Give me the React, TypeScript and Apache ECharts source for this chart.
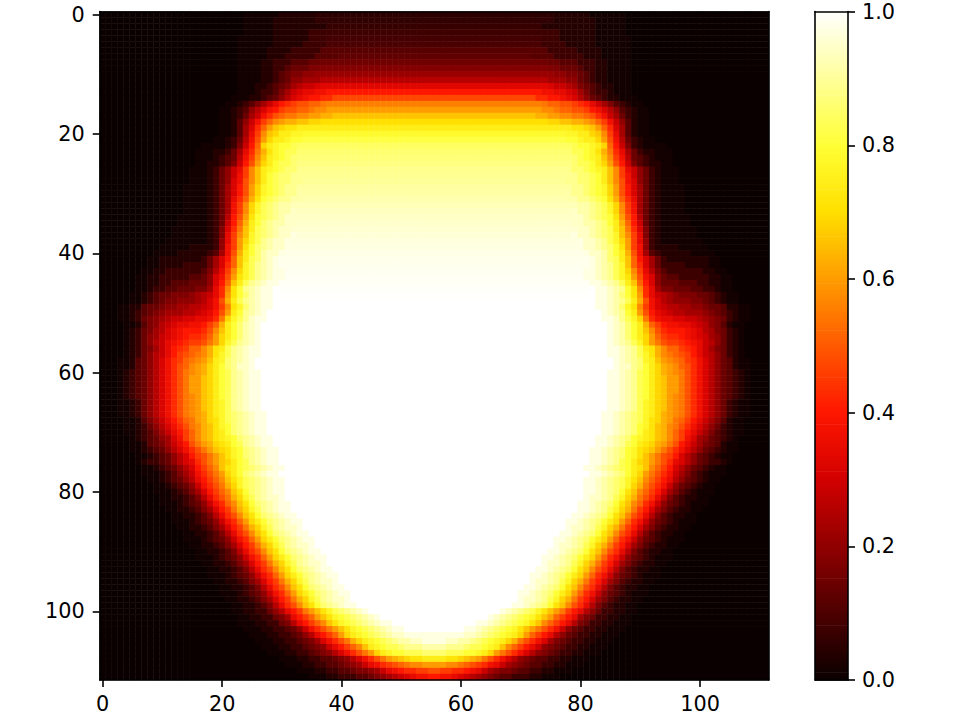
import React, { useEffect, useRef } from "react";
import * as echarts from "echarts";

// Left half of each image row (columns 0-55); the picture is mirror-symmetric.
// Format: "<number of leading zero cells>|<one base-36 digit per cell>".
const LEFT_ROWS = [
  "24|111111222222","24|111112222222","24|11111222222222","24|1111122222233 33","23|111111222222333","23|111111222223333",
  "23|1111122223333 3","23|11111222333334444","23|111122333444 55","23|11112233455566","23|1111223456677","23|111122345 77888",
  "23|11122345689aab","23|111233468abccdd","22|1112234579bcdeeff","21|1123468acefghhiij","20|1123479bdeghhiijkkl","20|11235 8adfhijjkkllmm",
  "20|11247adgiklmmnnoo","20|11248bfilnoppq","20|11248cgknoqqrr","19|112359dhloqqrss","17|1111236aeioqrsst","16|11122358cfjmprstt",
  "16|11123459dgknqrstu","16|1122346aehloqsttu","15|1112357acgknqrstuu","15|1112357adgknqstuuv","15|1112357bdhknqstuuvv","14|11112358behlorstuvv",
  "14|11112358behlorstuvvw","14|11112358cfimpstuvvww","14|11112358dgkortuvww","14|11112358dgkortuvwwx","13|11111235 9ehlpstuvwxx","13|1111123 5aeimqsuvwwxx",
  "12|11111123 6bfjnqtuvwxx","12|111111236cgknrtuvwxxy","11|1111111237cglortvwxxy","10|111112222 37dglpsuvwxxy","9|1111222223 48dhmqsuwxxy","8|1122222223 58beinqtuwxy",
  "8|11222233335 8bfinrtvwxy","7|11223333334 69cgkortvwxyy","6|11223333344 57bdhlprtvwxyy","6|1122334445557beinqtvwxyy","6|1123344555668cfkpsvwxyyz","5|1123455666789acflpsuwxyyz",
  "5|1123456677789bdhmqtvwxyyz","3|11224556778899abdgkpruwxyyz","3|1123456788899abcehlqsvwxyz","3|112356789aabbccdfjortvxyyz","4|1124679abccddegimqsuwxyz","4|1235689bcdeeefhknqsuwxyz",
  "4|123578abcdeffgiloqsuwxyz","4|123579acdefgghjlortvwxyz","4|123568acefgiikmpqtvwxyyz","4|123579aceghijkmprtvwxyyz","3|1124579bdfgijklnqruvwxyz","3|1124579bdfhiklmoqsuvxxyz",
  "3|1234579bdfhjklmoqstvwxyyz","3|1234579bdfhjllnoqstvwxyyz","3|1234579bdfhjllnoqstvwxyyz","3|1234579bdfhjllnoqstvwxyyz","3|1234579bdfhjklnoqstvwxyyz","3|1123579bdfhjklnoqrtvwxyyz",
  "3|1123579bdfhjklnoqrtvwxyyz","3|1123579bdfhjklmoqrtuvwxyyz","4|112468acegijlmoprtuvwxyyz","4|1123579bdfhjkmnprsuvwxyyz","4|1123468acegikmnpqsuvwxyyz","5|1234578bdgikmnpqrsuvwxyyz",
  "5|1124568acehjlmopqstvwxyyz","5|11234579bdfhjlnoprsuvwxyyz","6|11234579beghjlnprsuvwxyyz","6|123345 79bcfhjlnoqstvwxyyz","7|11234579begiknpqstuvwxyyz","7|11123468adfhjloqsuvwxyyz",
  "8|11234579cegiknprtuvwxyyz","9|1123457adfhjmortuvwxyyz","9|11123468begiknpsuvwxyyz","10|11223469cfhjmortvwxxyz","10|11123457adfiknpsuvwxyyz","11|11223468begjmortvwxyyz",
  "12|11223469cfhknpsuvwxyyz","12|11123457adfiloqsuvwxyyz","13|11223468begjmortvwxxyz","14|11223469cfhknpsuvwxyyz","14|11123457adfiloqsuvwxyyz","15|11223468begjmortvwxxyz",
  "16|11223469cfhknpsuvwxyyz","16|11123457adfiloqsuvwxyyz","17|11223468begjmortvwxxyz","18|11223469cfhknpsuvwxyyz","18|11123457adfiloqsuvwxyyz","19|11223468begjmortvwxxyz",
  "20|11223469cfhknpsuvwxyyz","20|11123457adfiloqsuvwxyyz","21|11223468begjmortvwxxyz","22|11223469cfhknpsuvwxyyz","22|112233579cegjlnprtuvwxyz","23|112233568cegilnprstuvwxyz",
  "23|1112233569cegiknprstuvwxyyz","24|1112233457adfhjlnprstuvwxyyz","25|11122334579cegiloqrstuvwxxyyy","26|11122334568bdfhjmoqrstuvwwxxyy","27|11122334567acegiknqrsttuvvvww","28|111223345679bdfhjloqrsstttuu",
  "30|1112233445679bdfhjlmnoppqq","31|1112233445678acdfghijkkll","33|11122334456678acdeffggh","35|111223334456789abcdde",
];
// Level of the flat middle of rows 0-48, on the same 0-35 scale, read down the central column.
const CENTRE_LEVELS = [
  1.8, 2, 2.3, 2.7, 3, 3.3, 4, 4.5, 5.3, 6.3, 7.5, 9, 11.5, 14, 16.5, 19.5, 21, 23, 24.5, 26, 27.4, 28.5, 29.5, 30, 30.3,
  30.6, 31, 31.2, 31.4, 31.7, 31.9, 32.2, 32.5, 32.8, 33, 33.2, 33.4, 33.6, 33.8, 34, 34.2, 34.3, 34.4, 34.5, 34.6, 34.7, 34.8, 34.9, 35,
];
// The darkest digits stand for less than their face value.
const DARK_LEVELS = [0, 0.4, 1.3, 2.6];
const HOT_STOPS = ["#0b0000","#4e0000","#910000","#d30000","#ff1700","#ff5a00","#ff9d00","#ffe000","#ffff36","#ffff9b","#ffffff"];
const COLS = Array.from({ length: 112 }, (_, i) => String(i));
const FONT = "DejaVu Sans";
const FONT_SIZE = 20.8;

function parseRow(text: string, y: number): number[] {
  const [lead, digits] = text.replace(/ /g, "").split("|");
  const cells = new Array(Number(lead)).fill(0);
  for (const ch of digits) {
    const d = parseInt(ch, 36);
    cells.push((d < DARK_LEVELS.length ? DARK_LEVELS[d] : d) / 35);
  }
  const last = y < CENTRE_LEVELS.length ? CENTRE_LEVELS[y] / 35 : cells[cells.length - 1];
  while (cells.length < 56) cells.push(last);
  return cells.slice(0, 56);
}

const hot = (v: number) => echarts.color.lerp(Math.min(1, Math.max(0, v)), HOT_STOPS) as string;

export default function App() {
  const ref = useRef<HTMLDivElement>(null);
  useEffect(() => {
    document.body.style.margin = "0";
    const chart = echarts.init(ref.current!, undefined, { renderer: "svg" });
    const cells: number[][] = [];
    LEFT_ROWS.forEach((text, y) => {
      const half = parseRow(text, y);
      for (let x = 0; x < 112; x++) cells.push([x, y, x < 56 ? half[x] : half[111 - x]]);
    });
    const levels = Array.from({ length: 256 }, (_, i) => [0, i / 256, (i + 1) / 256]);
    const line = { show: true, onZero: false, lineStyle: { color: "#000", width: 1.6 } };
    const tick = { show: true, length: 7, alignWithLabel: true, interval: 19, lineStyle: { color: "#000", width: 1.6 } };
    const label = { show: true, interval: 19, color: "#000", fontFamily: FONT, fontSize: FONT_SIZE };
    const off = { axisTick: { show: false }, axisLabel: { show: false }, splitLine: { show: false }, axisLine: line, z: 10 };
    chart.setOption({
      animation: false,
      backgroundColor: "#fff",
      grid: [
        { left: 99.7, top: 11.6, width: 669, height: 668.4 },
        { left: 815, top: 11.6, width: 33, height: 668.4 },
      ],
      xAxis: [
        { type: "category", gridIndex: 0, position: "bottom", data: COLS, axisLine: line, axisTick: tick, axisLabel: { ...label, margin: 13 }, splitLine: { show: false }, z: 10 },
        { type: "category", gridIndex: 0, position: "top", data: COLS, ...off },
        { type: "value", gridIndex: 1, position: "bottom", min: 0, max: 1, ...off },
        { type: "value", gridIndex: 1, position: "top", min: 0, max: 1, ...off },
      ],
      yAxis: [
        { type: "category", gridIndex: 0, position: "left", inverse: true, data: LEFT_ROWS.map((_, i) => String(i)), axisLine: line, axisTick: tick, axisLabel: { ...label, margin: 15 }, splitLine: { show: false }, z: 10 },
        { type: "category", gridIndex: 0, position: "right", inverse: true, data: LEFT_ROWS.map((_, i) => String(i)), ...off },
        {
          type: "value", gridIndex: 1, position: "right", min: 0, max: 1, interval: 0.2, axisLine: line,
          axisTick: { show: true, length: 7, lineStyle: { color: "#000", width: 1.6 } },
          axisLabel: { show: true, color: "#000", fontFamily: FONT, fontSize: FONT_SIZE, margin: 14, formatter: (v: number) => v.toFixed(1) },
          splitLine: { show: false }, z: 10,
        },
        { type: "value", gridIndex: 1, position: "left", min: 0, max: 1, ...off },
      ],
      visualMap: { show: false, type: "continuous", min: 0, max: 1, seriesIndex: 0, dimension: 2, inRange: { color: HOT_STOPS } },
      series: [
        { type: "heatmap", xAxisIndex: 0, yAxisIndex: 0, data: cells, progressive: 0, silent: true, emphasis: { disabled: true } },
        {
          type: "custom", xAxisIndex: 2, yAxisIndex: 2, data: levels, progressive: 0, silent: true,
          encode: { x: 0, y: [1, 2] },
          renderItem: (_: any, api: any) => {
            const a = api.coord([0, api.value(1)]);
            const b = api.coord([1, api.value(2)]);
            return {
              type: "rect",
              shape: { x: a[0], y: b[1], width: b[0] - a[0], height: a[1] - b[1] + 0.7 },
              style: { fill: hot(api.value(1)), stroke: null },
            };
          },
        },
      ],
    });
    return () => chart.dispose();
  }, []);
  return <div ref={ref} style={{ position: "absolute", left: 0, top: 0, width: 960, height: 720 }} />;
}
